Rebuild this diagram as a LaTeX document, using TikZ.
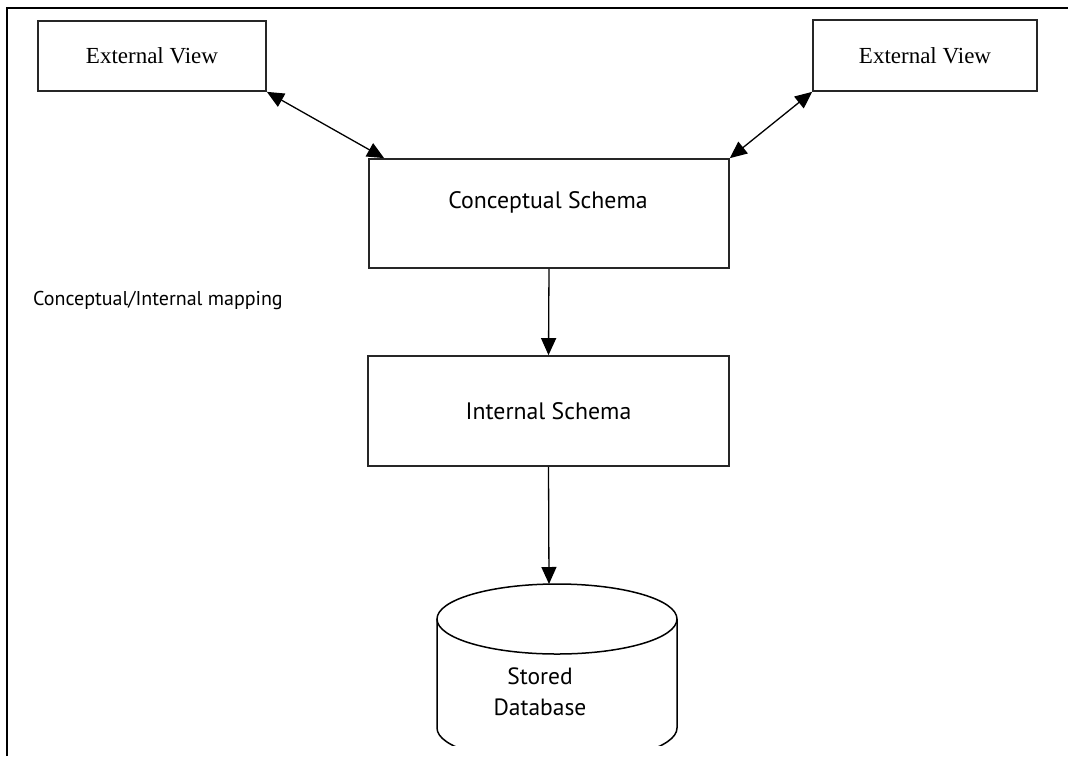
\documentclass[tikz,border=0pt]{standalone}
\usepackage{fontspec}
\setmainfont{Liberation Serif}
\newfontfamily\diagsans{PT Sans}
\usetikzlibrary{arrows.meta,calc}
\begin{document}
\begin{tikzpicture}[x=1pt,y=-1pt,
  box/.style={draw=black!85, line width=1.7pt, rectangle, inner sep=0pt},
  serifl/.style={font=\fontsize{23}{27}\selectfont},
  sanl/.style={font=\diagsans\fontsize{23.8}{29}\selectfont},
  sanm/.style={font=\diagsans\fontsize{20}{24}\selectfont},
  sandb/.style={font=\diagsans\fontsize{23.5}{31}\selectfont, align=center},
  arr/.style={-{Triangle[length=17pt,width=15pt]}, line width=1.3pt},
  dbl/.style={{Triangle[length=17pt,width=15pt]}-{Triangle[length=17pt,width=15pt]}, line width=1.3pt},
  cyl/.style={line width=1.5pt}
]
\useasboundingbox (0,0) rectangle (1068,756);
% outer frame
\draw[line width=2pt] (7,756) -- (7,8) -- (1068,8);
% boxes
\node[box, minimum width=228pt, minimum height=70pt, serifl] (ev1) at (152,56) {External View};
\node[box, minimum width=224pt, minimum height=71pt, serifl] (ev2) at (925,55.5) {External View};
\node[box, minimum width=360pt, minimum height=109pt] (cs) at (549,213.5) {};
\node[sanl] (cst) at (548,202) {Conceptual Schema};
\node[box, minimum width=361pt, minimum height=110pt, sanl] (is) at (548.5,411) {Internal Schema};
\node[sanm, anchor=west, inner sep=0pt] (map) at (33,300) {Conceptual/Internal mapping};
% cylinder
\coordinate (dbc) at (557,619);
\coordinate (dbtop) at (549,584);
\begin{scope}
  \clip (0,0) rectangle (1068,745);
  \draw[cyl] (dbc) ellipse [x radius=120pt, y radius=35pt];
  \draw[cyl] ($(dbc)+(-120,0)$) -- ++(0,109) arc[start angle=180, end angle=360, x radius=120pt, y radius=35pt] -- ($(dbc)+(120,0)$);
\end{scope}
\node[sandb] (dbt) at (540,692) {Stored\\Database};
% connectors
\draw[dbl] (ev1.south east) -- ($(cs.north west)+(16,0)$);
\draw[dbl] (ev2.south west) -- (cs.north east);
\draw[arr] (cs.south) -- (is.north);
\draw[arr] (is.south) -- (dbtop);
\end{tikzpicture}
\end{document}
